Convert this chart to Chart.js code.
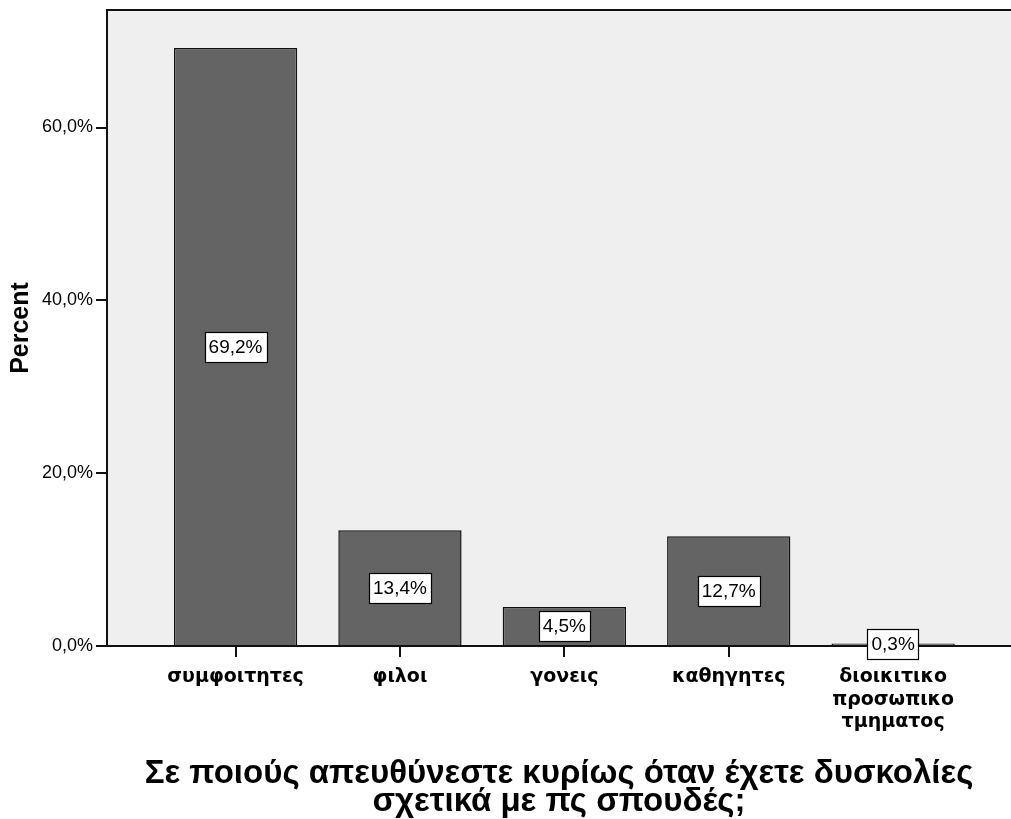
<!DOCTYPE html>
<html>
<head>
<meta charset="utf-8">
<script src="https://cdn.jsdelivr.net/npm/chart.js@4.4.0/dist/chart.umd.min.js"></script>
<style>
html,body{margin:0;padding:0;background:#fff;}
#wrap{width:1011px;height:819px;position:relative;}
</style>
</head>
<body>
<div id="wrap"><canvas id="c" width="1011" height="819"></canvas></div>
<script>
const categories = [
  ['συμφοιτητες'],
  ['φιλοι'],
  ['γονεις'],
  ['καθηγητες'],
  ['διοικιτικο', 'προσωπικο', 'τμηματος']
];
const percents = [69.2, 13.4, 4.5, 12.7, 0.3];
const yTicks = [0, 20, 40, 60];
const yAxisTitle = 'Percent';
const xAxisTitle = ['Σε ποιούς απευθύνεστε κυρίως όταν έχετε δυσκολίες', 'σχετικά με πς σπουδές;'];

const fmt = v => v.toFixed(1).replace('.', ',') + '%';

const bgPlugin = {
  id: 'bg',
  beforeDraw(chart) {
    const {ctx, chartArea: a} = chart;
    ctx.save();
    ctx.fillStyle = '#efefef';
    ctx.fillRect(a.left, a.top, a.right - a.left, a.bottom - a.top);
    ctx.strokeStyle = '#111';
    ctx.lineWidth = 2;
    ctx.beginPath();
    ctx.moveTo(a.left, a.top);
    ctx.lineTo(a.right + 5, a.top);
    ctx.stroke();
    ctx.restore();
  }
};

const labelPlugin = {
  id: 'vlabels',
  afterDatasetsDraw(chart) {
    const {ctx} = chart;
    const meta = chart.getDatasetMeta(0);
    ctx.save();
    ctx.font = '19px "Liberation Sans", Arial, sans-serif';
    ctx.textAlign = 'center';
    ctx.textBaseline = 'middle';
    meta.data.forEach((bar, i) => {
      const txt = fmt(percents[i]);
      const w = ctx.measureText(txt).width + 8;
      const h = 30;
      const cx = bar.x;
      const cy = (bar.y + bar.base) / 2;
      ctx.fillStyle = '#fff';
      ctx.fillRect(Math.round(cx - w / 2) + 0.5, Math.round(cy - h / 2) + 0.5, Math.round(w), h);
      ctx.strokeStyle = '#000';
      ctx.lineWidth = 1.2;
      ctx.strokeRect(Math.round(cx - w / 2) + 0.5, Math.round(cy - h / 2) + 0.5, Math.round(w), h);
      ctx.fillStyle = '#000';
      ctx.fillText(txt, cx, cy + 1);
    });
    ctx.restore();
  }
};

new Chart(document.getElementById('c'), {
  type: 'bar',
  data: {
    datasets: [{
      data: percents.map((p, i) => ({x: i, y: p})),
      backgroundColor: '#646464',
      borderColor: '#111',
      borderWidth: 1.5,
      borderSkipped: 'bottom',
      categoryPercentage: 1,
      barPercentage: 0.75
    }]
  },
  options: {
    responsive: false,
    animation: false,
    events: [],
    layout: {padding: {top: 10, left: 0, right: 0, bottom: 0}},
    plugins: {legend: {display: false}, tooltip: {enabled: false}},
    scales: {
      x: {
        type: 'linear',
        offset: false,
        min: -0.782,
        max: 4.717,
        afterBuildTicks(s) { s.ticks = categories.map((c, i) => ({value: i})); },
        afterFit(s) { s.height = 819 - 646 - 0; },
        grid: {offset: false, drawOnChartArea: false, drawTicks: true, tickLength: 11, color: '#111', lineWidth: 2},
        border: {display: true, color: '#111', width: 2},
        ticks: {
          autoSkip: false,
          maxRotation: 0,
          padding: 9,
          color: '#000',
          font: {family: '"DejaVu Sans", Verdana, sans-serif', weight: 'bold', size: 19, lineHeight: 1.18},
          callback: v => categories[v]
        },
        title: {
          display: true,
          text: xAxisTitle,
          color: '#000',
          font: {family: '"Liberation Sans", Arial, sans-serif', weight: 'bold', size: 33, lineHeight: 0.85},
          padding: {top: 0, bottom: 3}
        }
      },
      y: {
        min: 0,
        max: 73.6,
        afterBuildTicks(s) { s.ticks = yTicks.map(v => ({value: v})); },
        afterFit(s) { s.width = 107; s.paddingTop = 0; s.paddingBottom = 0; },
        grid: {drawOnChartArea: false, drawTicks: true, tickLength: 11, color: '#111', lineWidth: 2},
        border: {display: true, color: '#111', width: 2},
        ticks: {
          padding: 3,
          color: '#000',
          font: {family: '"Liberation Sans", Arial, sans-serif', size: 18},
          callback: v => fmt(v)
        },
        title: {
          display: true,
          text: yAxisTitle,
          color: '#000',
          font: {family: '"Liberation Sans", Arial, sans-serif', weight: 'bold', size: 25},
          padding: {top: 6, bottom: 0}
        }
      }
    }
  },
  plugins: [bgPlugin, labelPlugin]
});
</script>
</body>
</html>
